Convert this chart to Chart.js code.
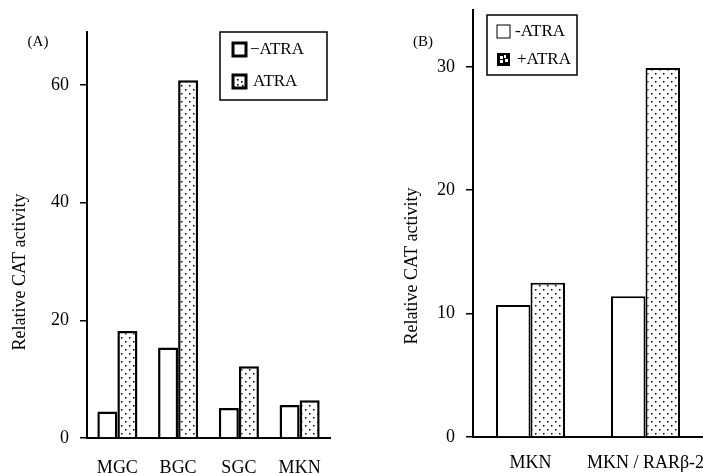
<!DOCTYPE html>
<html>
<head>
<meta charset="utf-8">
<script src="https://cdn.jsdelivr.net/npm/chart.js@4/dist/chart.umd.min.js"></script>
<style>
  html, body { margin: 0; padding: 0; background: #fff; }
  #wrap { position: relative; width: 703px; height: 473px; overflow: hidden; }
  #chartA { position: absolute; left: 0; top: 0; }
  #chartB { position: absolute; left: 350px; top: 0; }
</style>
</head>
<body>
<div id="wrap">
  <canvas id="chartA" width="350" height="473"></canvas>
  <canvas id="chartB" width="353" height="473"></canvas>
</div>
<script>
// panel (A)
const labelsA = ['MGC', 'BGC', 'SGC', 'MKN'];
const minusAtraA = [4.5, 15.4, 5.1, 5.6];
const plusAtraA = [18.2, 60.8, 12.2, 6.4];
const yTicksA = [0, 20, 40, 60];

// panel (B)
const labelsB = ['MKN', 'MKN / RAR\u03b2-2'];
const minusAtraB = [10.7, 11.4];
const plusAtraB = [12.5, 29.9];
const yTicksB = [0, 10, 20, 30];

const SERIF = '"Liberation Serif", "DejaVu Serif", serif';

Chart.defaults.animation = false;
Chart.defaults.font.family = SERIF;
Chart.defaults.color = '#000';

function dotPattern() {
    const c = document.createElement('canvas');
    c.width = 8; c.height = 8;
    const g = c.getContext('2d');
    g.fillStyle = '#fff';
    g.fillRect(0, 0, 8, 8);
    g.fillStyle = '#000';
    g.fillRect(1, 1, 1.5, 1.5);
    g.fillRect(5, 5, 1.5, 1.5);
    return g.createPattern(c, 'repeat');
}

// legend box, panel tag and rotated y title, drawn on top of each chart
function decorPlugin(opts) {
    return {
        id: 'decor',
        afterDraw(chart) {
            const ctx = chart.ctx;
            ctx.save();
            ctx.fillStyle = '#000';
            ctx.strokeStyle = '#000';

            ctx.font = '15px ' + SERIF;
            ctx.textAlign = 'center';
            ctx.textBaseline = 'middle';
            ctx.fillText(opts.tag, opts.tagX, opts.tagY);

            ctx.save();
            ctx.translate(opts.titleX, opts.titleY);
            ctx.rotate(-Math.PI / 2);
            ctx.font = '18px ' + SERIF;
            ctx.fillText('Relative CAT activity', 0, 0);
            ctx.restore();

            const b = opts.box;
            ctx.lineWidth = 1.5;
            ctx.fillStyle = '#fff';
            ctx.fillRect(b.x, b.y, b.w, b.h);
            ctx.strokeRect(b.x, b.y, b.w, b.h);

            ctx.font = '17px ' + SERIF;
            ctx.textAlign = 'left';
            opts.items.forEach(it => {
                it.swatch(ctx, it.sx, it.sy, it.size);
                ctx.fillStyle = '#000';
                ctx.fillText(it.text, it.tx, it.ty);
            });
            ctx.restore();
        }
    };
}

function openSwatch(lw) {
    return (ctx, x, y, s) => {
        ctx.fillStyle = '#fff';
        ctx.fillRect(x, y, s, s);
        ctx.lineWidth = lw;
        ctx.strokeStyle = '#000';
        ctx.strokeRect(x, y, s, s);
    };
}

function dottedSwatch(ctx, x, y, s) {
    ctx.fillStyle = '#fff';
    ctx.fillRect(x, y, s, s);
    ctx.lineWidth = 3;
    ctx.strokeStyle = '#000';
    ctx.strokeRect(x, y, s, s);
    ctx.fillStyle = '#000';
    [[4, 4], [8, 6], [4, 9], [9, 10]].forEach(([dx, dy]) => ctx.fillRect(x + dx, y + dy, 1.6, 1.6));
}

function blackSwatch(ctx, x, y, s) {
    ctx.fillStyle = '#000';
    ctx.fillRect(x, y, s, s);
    ctx.fillStyle = '#fff';
    ctx.fillRect(x + 3, y + 3, 3, 3);
    ctx.fillRect(x + 7, y + 2, 2, 3);
    ctx.fillRect(x + 3, y + 7, 3, 3);
    ctx.fillRect(x + 8, y + 6, 3, 3);
}

function noPad(s) {
    s.paddingLeft = 0; s.paddingRight = 0;
    s.paddingTop = 0; s.paddingBottom = 0;
}

function buildScales(ticks, yMax, yWidth, xHeight, xPad, border) {
    return {
        x: {
            grid: { display: false, drawTicks: false },
            border: { display: true, color: '#000', width: border },
            ticks: { font: { size: 18 }, color: '#000', padding: xPad, autoSkip: false, maxRotation: 0 },
            afterFit: s => { s.height = xHeight; noPad(s); }
        },
        y: {
            min: 0,
            max: yMax,
            grid: { drawOnChartArea: false, drawTicks: true, tickLength: 7, color: '#000', lineWidth: 1.5 },
            border: { display: true, color: '#000', width: border },
            ticks: { font: { size: 18 }, color: '#000', padding: 11 },
            afterBuildTicks: s => { s.ticks = ticks.map(v => ({ value: v })); },
            afterFit: s => { s.width = yWidth; noPad(s); }
        }
    };
}

function renderPanelA() {
    new Chart(document.getElementById('chartA'), {
        type: 'bar',
        data: {
            labels: labelsA,
            datasets: [
                { label: '\u2212ATRA', data: minusAtraA, backgroundColor: '#fff', borderColor: '#000', borderWidth: 2.5 },
                { label: 'ATRA', data: plusAtraA, backgroundColor: dotPattern(), borderColor: '#000', borderWidth: 2.5 }
            ]
        },
        options: {
            responsive: false,
            layout: { padding: { top: 32, right: 20, left: 0, bottom: 0 } },
            categoryPercentage: 0.66,
            barPercentage: 1,
            plugins: { legend: { display: false }, tooltip: { enabled: false } },
            scales: buildScales(yTicksA, 69, 87, 35, 19, 2)
        },
        plugins: [decorPlugin({
            tag: '(A)', tagX: 38, tagY: 42,
            titleX: 20, titleY: 272,
            box: { x: 220, y: 32, w: 107, h: 68 },
            items: [
                { swatch: openSwatch(3), sx: 233, sy: 43, size: 13, text: '\u2212ATRA', tx: 250, ty: 50 },
                { swatch: dottedSwatch, sx: 233, sy: 75, size: 13, text: 'ATRA', tx: 253, ty: 82 }
            ]
        })]
    });
}

function renderPanelB() {
    new Chart(document.getElementById('chartB'), {
        type: 'bar',
        data: {
            labels: labelsB,
            datasets: [
                { label: '-ATRA', data: minusAtraB, backgroundColor: '#fff', borderColor: '#000', borderWidth: 2 },
                { label: '+ATRA', data: plusAtraB, backgroundColor: dotPattern(), borderColor: '#000', borderWidth: 2 }
            ]
        },
        options: {
            responsive: false,
            layout: { padding: { top: 10, right: 0, left: 0, bottom: 0 } },
            categoryPercentage: 0.6,
            barPercentage: 1,
            plugins: { legend: { display: false }, tooltip: { enabled: false } },
            scales: buildScales(yTicksB, 34.6, 123, 36, 15, 2)
        },
        plugins: [decorPlugin({
            tag: '(B)', tagX: 73, tagY: 42,
            titleX: 62, titleY: 266,
            box: { x: 137, y: 15, w: 90, h: 60 },
            items: [
                { swatch: openSwatch(1), sx: 147, sy: 25, size: 13, text: '-ATRA', tx: 165, ty: 32 },
                { swatch: blackSwatch, sx: 147, sy: 53, size: 13, text: '+ATRA', tx: 167, ty: 60 }
            ]
        })]
    });
}

document.addEventListener('DOMContentLoaded', () => {
    renderPanelA();
    renderPanelB();
});
</script>
</body>
</html>
